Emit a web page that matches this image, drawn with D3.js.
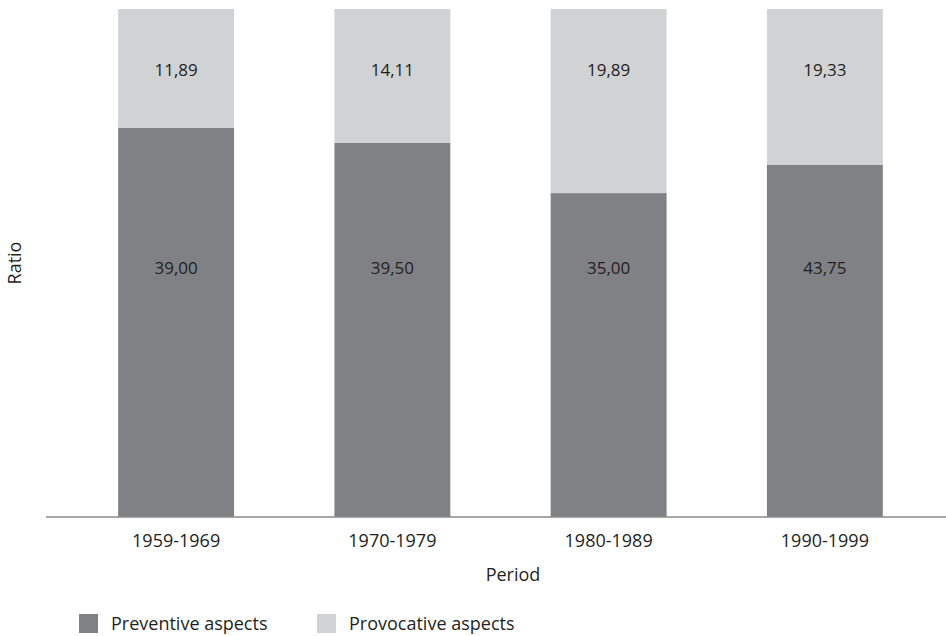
<!DOCTYPE html>
<html>
<head>
<meta charset="utf-8">
<script src="https://cdn.jsdelivr.net/npm/d3@7"></script>
<style>
  body { margin: 0; background: #fff; }
  text { font-family: "Open Sans", sans-serif; fill: #231f20; }
</style>
</head>
<body>
<svg id="chart" width="946" height="636"></svg>
<script>
// values as printed in the bars
const periods = ["1959-1969", "1970-1979", "1980-1989", "1990-1999"];
const preventive = [39.00, 39.50, 35.00, 43.75];
const provocative = [11.89, 14.11, 19.89, 19.33];
const seriesNames = ["Preventive aspects", "Provocative aspects"];

let svg = d3.select("#chart"),
    x0 = 68, x1 = 933,
    yTop = 9, yBottom = 517;

let colors = ["#808184", "#d1d2d4"];

// label rows: all value labels of a series sit on one line
let labelRows = [268, 70];

let rows = periods.map(function(p, i) {
    return { period: p, prev: preventive[i], prov: provocative[i] };
});

let xAxis = d3.scaleBand().domain(periods).range([x0, x1])
        .paddingInner(0.464).paddingOuter(0.232),
    yAxis = d3.scaleLinear().domain([0, 1]).range([yBottom, yTop]);

let fmt = d3.formatLocale({ decimal: ",", thousands: ".", grouping: [3], currency: ["", ""] }).format(".2f");

// 100% stacked
let stacked = d3.stack().keys(["prev", "prov"]).offset(d3.stackOffsetExpand)(rows);

let g = svg.append("g");

stacked.forEach(function(layer, li) {
    g.selectAll(".bar" + li)
        .data(layer)
        .enter().append("rect")
        .attr("class", "bar" + li)
        .attr("fill", colors[li])
        .attr("x", function(d) { return xAxis(d.data.period); })
        .attr("y", function(d) { return yAxis(d[1]); })
        .attr("width", xAxis.bandwidth())
        .attr("height", function(d) { return yAxis(d[0]) - yAxis(d[1]); });

    g.selectAll(".val" + li)
        .data(layer)
        .enter().append("text")
        .attr("class", "val" + li)
        .attr("x", function(d) { return xAxis(d.data.period) + xAxis.bandwidth() / 2; })
        .attr("y", labelRows[li])
        .attr("dy", "0.35em")
        .attr("text-anchor", "middle")
        .attr("font-size", "17px")
        .text(function(d) { return fmt(li === 0 ? d.data.prev : d.data.prov); });
});

// x axis
let ax = svg.append("g")
    .attr("transform", "translate(0," + yBottom + ")")
    .call(d3.axisBottom(xAxis).tickSize(0).tickPadding(17));
ax.select(".domain").remove();
ax.append("line")
    .attr("x1", 46).attr("x2", 946)
    .attr("stroke", "#8a8a8a")
    .attr("stroke-width", 1.4);
ax.selectAll(".tick text")
    .attr("font-size", "18px")
    .attr("font-family", "Open Sans, sans-serif")
    .attr("fill", "#231f20");

svg.append("text")
    .attr("x", 513)
    .attr("y", 575)
    .attr("dy", "0.35em")
    .attr("text-anchor", "middle")
    .attr("font-size", "18px")
    .text("Period");

svg.append("text")
    .attr("transform", "translate(15," + (yTop + yBottom) / 2 + ") rotate(-90)")
    .attr("dy", "0.35em")
    .attr("text-anchor", "middle")
    .attr("font-size", "18px")
    .text("Ratio");

// legend
let legendX = [79, 317];
seriesNames.forEach(function(name, i) {
    svg.append("rect")
        .attr("x", legendX[i])
        .attr("y", 614)
        .attr("width", 19)
        .attr("height", 19)
        .attr("fill", colors[i]);
    svg.append("text")
        .attr("x", legendX[i] + 32)
        .attr("y", 624)
        .attr("dy", "0.35em")
        .attr("font-size", "18px")
        .text(name);
});
</script>
</body>
</html>
